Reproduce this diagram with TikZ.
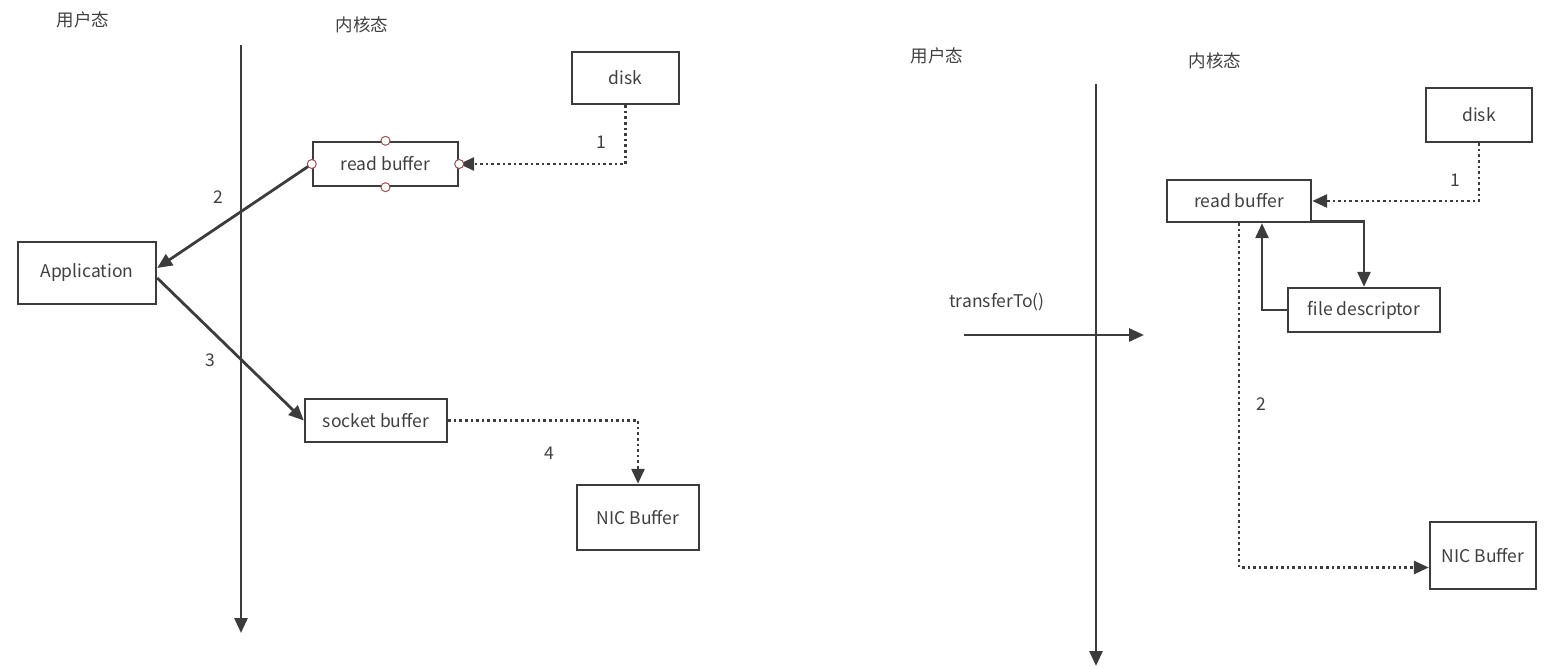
\documentclass[tikz,border=0pt]{standalone}
\usepackage{fontspec}
\setmainfont{Noto Sans CJK SC}
\usetikzlibrary{arrows.meta}
\definecolor{ln}{HTML}{3C3C3C}
\definecolor{tx}{HTML}{404040}
\definecolor{hd}{HTML}{A05050}
\begin{document}
\begin{tikzpicture}[x=1pt,y=-1pt,
 box/.style={draw=ln, line width=2.4pt, fill=white, text=tx, font=\fontsize{17.5}{20}\selectfont, inner sep=0pt},
 lbl/.style={text=tx, font=\fontsize{17.5}{20}\selectfont, inner sep=0pt},
 solidarr/.style={draw=ln, line width=2.8pt, -{Triangle[length=15pt,width=13pt]}},
 dotarr/.style={draw=ln, line width=2.8pt, dash pattern=on 2.6pt off 3pt, -{Triangle[length=15pt,width=13pt]}},
 handle/.style={circle, draw=hd, fill=white, line width=1pt, minimum size=9pt, inner sep=0pt}]
\path[use as bounding box] (0,0) rectangle (1564,668);
% left
\node[lbl] (u1) at (83,20) {用户态};
\node[lbl] (k1) at (362,25) {内核态};
\coordinate (v1t) at (241,45); \coordinate (v1b) at (241,633);
\draw[solidarr] (v1t) -- (v1b);
\node[box, minimum width=107, minimum height=52] (disk1) at (625.5,78) {disk};
\node[box, minimum width=145, minimum height=44] (rb1) at (385.5,164) {read buffer};
\node[box, minimum width=138, minimum height=62] (app) at (87,273) {Application};
\node[box, minimum width=142, minimum height=43] (sb) at (376,420.5) {socket buffer};
\node[box, minimum width=122, minimum height=65] (nic1) at (638,517.5) {NIC Buffer};
\draw[dotarr] (disk1.south) |- (rb1.east);
\node[lbl] (n1) at (601,142) {1};
\draw[solidarr] (rb1.west) -- ([yshift=5pt]app.east);
\node[lbl] (n2) at (218,197) {2};
\draw[solidarr] ([yshift=-5pt]app.east) -- (sb.west);
\node[lbl] (n3) at (210,360) {3};
\draw[dotarr] (sb.east) -| (nic1.north);
\node[lbl] (n4) at (549,453) {4};
\node[handle] (h1) at (rb1.north) {};
\node[handle] (h2) at (rb1.south) {};
\node[handle] (h3) at (rb1.east) {};
\node[handle] (h4) at (rb1.west) {};
% right
\node[lbl] (u2) at (937,56) {用户态};
\node[lbl] (k2) at (1215,61) {内核态};
\coordinate (v2t) at (1096,84); \coordinate (v2b) at (1096,666);
\draw[solidarr] (v2t) -- (v2b);
\node[box, minimum width=106, minimum height=54] (disk2) at (1479,115) {disk};
\node[box, minimum width=144, minimum height=42] (rb2) at (1239,201) {read buffer};
\node[box, minimum width=152, minimum height=44] (fd) at (1364,310) {file descriptor};
\node[box, minimum width=106, minimum height=67] (nic2) at (1483,555.5) {NIC Buffer};
\draw[dotarr] (disk2.south) |- (rb2.east);
\node[lbl] (m1) at (1455,180) {1};
\draw[solidarr] ([yshift=2pt]rb2.south east) -| (fd.north);
\draw[solidarr] (fd.west) -| ([xshift=23pt]rb2.south);
\draw[dotarr] (rb2.south) |- ([yshift=-12pt]nic2.west);
\node[lbl] (m2) at (1261,404) {2};
\node[lbl] (tt) at (997,302) {transferTo()};
\coordinate (ta) at (964,335); \coordinate (tb) at (1144,335);
\draw[solidarr] (ta) -- (tb);
\end{tikzpicture}
\end{document}
